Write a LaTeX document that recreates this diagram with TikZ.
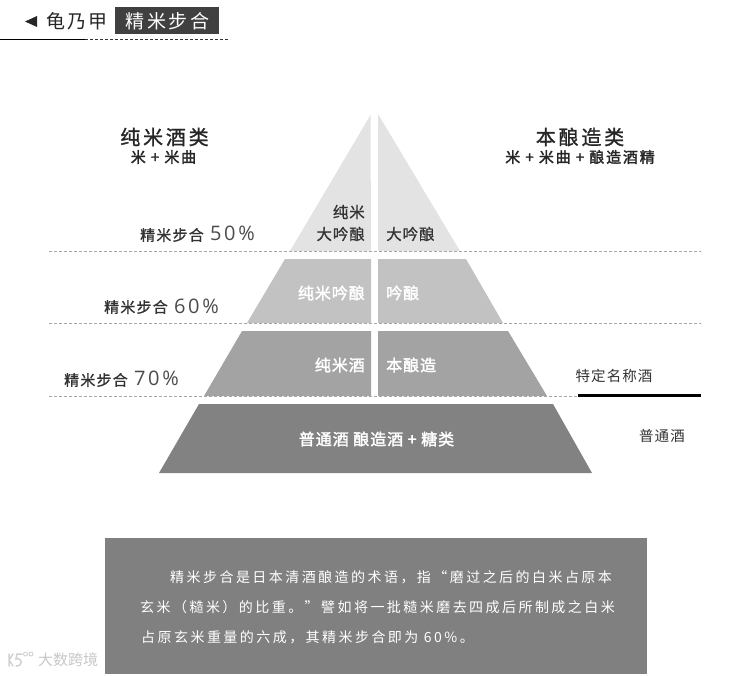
\documentclass[tikz,border=0pt]{standalone}
\usepackage{fontspec}
\setmainfont{Noto Sans CJK SC}
\newfontfamily\numfont{Open Sans}
\usetikzlibrary{calc,positioning}

\begin{document}
\begin{tikzpicture}[
    x=1pt, y=-1pt,
    tierlabel/.style={anchor=center, inner sep=0pt, font=\fontsize{15.5}{15.5}\selectfont\addfontfeature{LetterSpace=6,FakeBold=0.8}},
    tierlight/.style={tierlabel, text=white, font=\fontsize{16}{16}\selectfont\addfontfeature{LetterSpace=6,FakeBold=2}},
    headtitle/.style={anchor=center, inner sep=0pt, text=black!85, font=\fontsize{20}{20}\selectfont\addfontfeature{LetterSpace=14,FakeBold=1.2}},
    headsub/.style={anchor=center, inner sep=0pt, text=black!85, font=\fontsize{15}{15}\selectfont\addfontfeature{LetterSpace=12,FakeBold=2}},
    ratiolabel/.style={anchor=west, inner sep=0pt, text=black!80, font=\fontsize{15}{15}\selectfont\addfontfeature{LetterSpace=8,FakeBold=1}},
    rationum/.style={anchor=west, inner sep=0pt, text=black!70, font=\fontsize{20}{20}\selectfont\numfont\addfontfeature{LetterSpace=13}},
    sidelabel/.style={anchor=center, inner sep=0pt, text=black!80, font=\fontsize{14.5}{14.5}\selectfont\addfontfeature{LetterSpace=7}},
    bodyline/.style={anchor=west, inner sep=0pt, text=white, font=\fontsize{14}{14}\selectfont\addfontfeature{LetterSpace=17.5}},
    guide/.style={black!35, densely dashed, line width=0.5pt},
    markline/.style={black!18, line width=1.5pt, line cap=round}
]
\useasboundingbox (0,0) rectangle (746,675);

% =========================================================================
% 1. HEADER
% =========================================================================
\fill[black!85] (25,21.5) -- (37,16) -- (37,27) -- cycle;
\node[anchor=center, inner sep=0pt, text=black!85, font=\fontsize{19}{19}\selectfont\addfontfeature{LetterSpace=9}] (brand) at (77,21) {龟乃甲};
\fill[black!75] (115,7) rectangle (219,34);
\node[anchor=center, inner sep=0pt, text=white, font=\fontsize{19}{19}\selectfont\addfontfeature{LetterSpace=14}] (tag) at (167.5,21) {精米步合};
\draw[black, line width=0.8pt] (0,39) -- (85,39);
\draw[black!80, densely dashed, line width=0.6pt] (85,39) -- (230,39);

% =========================================================================
% 2. PYRAMID
% =========================================================================
% Mitad izquierda
\fill[black!11] (370.5,115) -- (371,251) -- (290,251) -- cycle;
\fill[black!24] (285,259) -- (371,259) -- (371,323) -- (247,323) -- cycle;
\fill[black!36] (242,331) -- (371,331) -- (371,396) -- (204,396) -- cycle;
% Mitad derecha
\fill[black!11] (378,114) -- (460,251) -- (378,251) -- cycle;
\fill[black!24] (378,259) -- (466,259) -- (503,323) -- (378,323) -- cycle;
\fill[black!36] (378,331) -- (508,331) -- (547,396) -- (378,396) -- cycle;
% Base
\fill[black!49] (199,404) -- (553,404) -- (592,473) -- (159,473) -- cycle;

% Lineas de corte
\draw[guide] (49,251.5) -- (701,251.5);
\draw[guide] (49,323.5) -- (701,323.5);
\draw[guide] (49,396.5) -- (578,396.5);
\draw[black, line width=2.6pt] (578,395.5) -- (701,395.5);

% Rotulos de cada nivel
\node[tierlabel, text=black!80, anchor=east] (daiginjoa) at (365,212) {纯米};
\node[tierlabel, text=black!80, anchor=east] (daiginjob) at (365,234) {大吟酿};
\node[tierlabel, text=black!80, anchor=west] (daiginjoc) at (386,234) {大吟酿};
\node[tierlight, anchor=east] (ginjoa) at (365,293) {纯米吟酿};
\node[tierlight, anchor=west] (ginjob) at (386,293) {吟酿};
\node[tierlight, anchor=east] (junmai) at (365,365) {纯米酒};
\node[tierlight, anchor=west] (honjo) at (386,365) {本酿造};
\node[tierlight] (futsu) at (376.5,439) {普通酒 酿造酒 + 糖类};

% =========================================================================
% 3. TITLES AND RATIOS
% =========================================================================
\node[headtitle] (juntitle) at (164.5,137) {纯米酒类};
\node[headsub] (junsub) at (163.5,157) {米 + 米曲};
\node[headtitle] (hontitle) at (580,137) {本酿造类};
\node[headsub] (honsub) at (580,157) {米 + 米曲 + 酿造酒精};

\node[ratiolabel] (ratioa) at (140,235) {精米步合};
\node[rationum] (numa) at (210,233) {50\%};
\node[ratiolabel] (ratiob) at (104,307) {精米步合};
\node[rationum] (numb) at (174,306) {60\%};
\node[ratiolabel] (ratioc) at (64,380) {精米步合};
\node[rationum] (numc) at (134,378) {70\%};

\node[sidelabel] (special) at (614,376) {特定名称酒};
\node[sidelabel] (plain) at (662,436) {普通酒};

% =========================================================================
% 4. NOTE BOX
% =========================================================================
\fill[black!50] (105,538) rectangle (647,674);
\node[bodyline] (linea) at (170,577) {精米步合是日本清酒酿造的术语，指“磨过之后的白米占原本};
\node[bodyline] (lineb) at (140,607) {玄米（糙米）的比重。”譬如将一批糙米磨去四成后所制成之白米};
\node[bodyline] (linec) at (141,637) {占原玄米重量的六成，其精米步合即为 60\%。};

% Marca de agua
\draw[markline] (9,654) -- (9,666) (9,660) -- (13,654) (9,660) -- (13,666);
\draw[markline] (22,654) -- (17,654) -- (16,659) .. controls (22,657) and (24,666) .. (16,666);
\draw[markline, line width=0.9pt] (25.5,654) circle (2) (31,654) circle (2);
\node[anchor=west, inner sep=0pt, text=black!22, font=\fontsize{15}{15}\selectfont] (mark) at (38,660) {大数跨境};

\end{tikzpicture}
\end{document}
